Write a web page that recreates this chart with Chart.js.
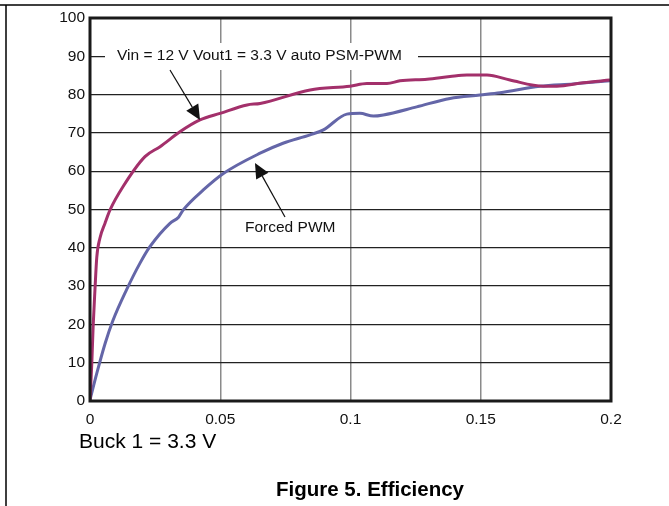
<!DOCTYPE html>
<html>
<head>
<meta charset="utf-8">
<script src="https://cdn.jsdelivr.net/npm/chart.js@4.4.1/dist/chart.umd.min.js"></script>
<style>
  html, body { margin: 0; padding: 0; background: #fff; }
  #wrap { position: relative; width: 669px; height: 506px; }
</style>
</head>
<body>
<div id="wrap"><canvas id="effChart" width="669" height="506"></canvas></div>
<script>
// load current (A) vs efficiency (%)
var psmX = [0, 0.0007, 0.0012, 0.0019, 0.0026, 0.0038, 0.0058, 0.0077, 0.0127, 0.0211, 0.0269, 0.0345, 0.0422, 0.0499, 0.0603, 0.0653,
            0.0845, 0.0998, 0.1063, 0.114, 0.119, 0.1294, 0.1382, 0.1447, 0.1524, 0.1612, 0.174, 0.1792, 0.1893, 0.1996];
var psmY = [0, 10, 19.4, 29, 37.5, 42.5, 46.5, 49.9, 56, 63.8, 66.4, 70.3, 73.4, 75.1, 77.3, 77.7,
            81.2, 82.2, 82.9, 82.9, 83.6, 84, 84.7, 85.1, 85.1, 83.8, 82.2, 82.2, 83.1, 83.8];

var pwmX = [0, 0.0026, 0.0058, 0.0088, 0.014, 0.0192, 0.023, 0.0307, 0.034, 0.0358, 0.0435, 0.0512, 0.0653, 0.0741,
            0.0845, 0.0896, 0.0986, 0.1036, 0.1088, 0.1126, 0.1254, 0.1382, 0.1497, 0.1574, 0.1727, 0.1855, 0.1996];
var pwmY = [0.3, 7.2, 15, 21, 29, 36, 40.3, 46.4, 48, 49.9, 55.1, 59.4, 64.7, 67.3,
            69.5, 70.8, 74.9, 75.1, 74.4, 74.7, 76.8, 79, 79.9, 80.5, 82.2, 82.8, 83.6];

var xTicks = [0, 0.05, 0.1, 0.15, 0.2];
var xTickLabels = ['0', '0.05', '0.1', '0.15', '0.2'];

var FONT = '"Liberation Sans", Arial, sans-serif';

function pairs(xs, ys) {
    var out = [];
    for (var i = 0; i < xs.length; i++) out.push({ x: xs[i], y: ys[i] });
    return out;
}

function arrow(ctx, x1, y1, x2, y2) {
    var a = Math.atan2(y2 - y1, x2 - x1);
    var len = 15, w = 7;
    var bx = x2 - len * Math.cos(a), by = y2 - len * Math.sin(a);
    ctx.beginPath();
    ctx.moveTo(x1, y1);
    ctx.lineTo(bx, by);
    ctx.strokeStyle = '#111';
    ctx.lineWidth = 1.2;
    ctx.stroke();
    ctx.beginPath();
    ctx.moveTo(x2, y2);
    ctx.lineTo(bx + w * Math.sin(a), by - w * Math.cos(a));
    ctx.lineTo(bx - w * Math.sin(a), by + w * Math.cos(a));
    ctx.closePath();
    ctx.fillStyle = '#111';
    ctx.fill();
}

var extras = {
    id: 'extras',
    beforeDatasetsDraw: function (chart) {
        var ctx = chart.ctx;
        ctx.save();
        // white box behind the top annotation (covers grid)
        ctx.fillStyle = '#fff';
        ctx.fillRect(105, 43, 313, 27);
        ctx.font = '15.5px ' + FONT;
        ctx.fillStyle = '#111';
        ctx.textBaseline = 'middle';
        ctx.textAlign = 'left';
        ctx.fillText('Vin = 12 V Vout1 = 3.3 V auto PSM-PWM', 117, 56);
        ctx.fillText('Forced PWM', 245, 228);
        ctx.restore();
    },
    afterDatasetsDraw: function (chart) {
        var ctx = chart.ctx;
        var a = chart.chartArea;
        ctx.save();
        arrow(ctx, 170, 70, 200, 120);
        arrow(ctx, 285, 217, 255, 163);
        // plot frame
        ctx.strokeStyle = '#1a1a1a';
        ctx.lineWidth = 3;
        ctx.strokeRect(a.left, a.top, a.right - a.left, a.bottom - a.top);
        // page frame
        ctx.strokeStyle = '#000';
        ctx.lineWidth = 1.5;
        ctx.beginPath();
        ctx.moveTo(0, 5);
        ctx.lineTo(669, 5);
        ctx.moveTo(6, 5);
        ctx.lineTo(6, 506);
        ctx.stroke();
        // captions
        ctx.fillStyle = '#000';
        ctx.textBaseline = 'middle';
        ctx.textAlign = 'left';
        ctx.font = '21px ' + FONT;
        ctx.fillText('Buck 1 = 3.3 V', 79, 442);
        ctx.font = 'bold 20.5px ' + FONT;
        ctx.textAlign = 'center';
        ctx.fillText('Figure 5. Efficiency', 370, 490);
        ctx.restore();
    }
};

new Chart(document.getElementById('effChart').getContext('2d'), {
    type: 'line',
    data: {
        datasets: [
            {
                label: 'Vin = 12 V Vout1 = 3.3 V auto PSM-PWM',
                data: pairs(psmX, psmY),
                borderColor: '#a3306b',
                borderWidth: 3,
                pointRadius: 0,
                cubicInterpolationMode: 'monotone',
                fill: false
            },
            {
                label: 'Forced PWM',
                data: pairs(pwmX, pwmY),
                borderColor: '#6466a8',
                borderWidth: 3,
                pointRadius: 0,
                cubicInterpolationMode: 'monotone',
                fill: false
            }
        ]
    },
    options: {
        responsive: false,
        animation: false,
        layout: { padding: { left: 0, top: 18, right: 58, bottom: 0 } },
        plugins: {
            legend: { display: false },
            tooltip: { enabled: false }
        },
        scales: {
            x: {
                type: 'linear',
                min: 0,
                max: 0.2,
                afterBuildTicks: function (scale) {
                    scale.ticks = xTicks.map(function (v) { return { value: v }; });
                },
                afterFit: function (scale) { scale.height = 105; },
                ticks: {
                    color: '#111',
                    padding: 9,
                    maxRotation: 0,
                    font: { family: FONT, size: 15.5 },
                    callback: function (value) {
                        var i = xTicks.indexOf(value);
                        return i >= 0 ? xTickLabels[i] : '';
                    }
                },
                grid: { color: '#8a8a8a', lineWidth: 1.5, drawTicks: false },
                border: { display: false }
            },
            y: {
                min: 0,
                max: 100,
                afterFit: function (scale) { scale.width = 90; },
                ticks: {
                    stepSize: 10,
                    color: '#111',
                    padding: 5,
                    font: { family: FONT, size: 15.5 }
                },
                grid: { color: '#222', lineWidth: 1.2, drawTicks: false },
                border: { display: false }
            }
        }
    },
    plugins: [extras]
});
</script>
</body>
</html>
